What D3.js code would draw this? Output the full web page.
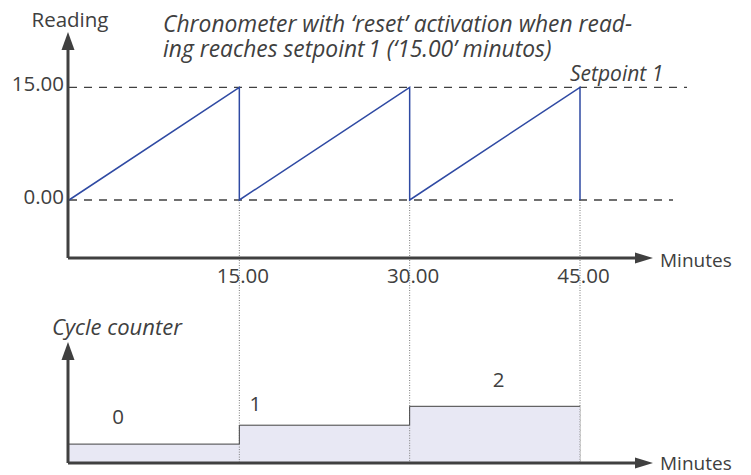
<!DOCTYPE html>
<html>
<head>
<meta charset="utf-8">
<script src="https://cdn.jsdelivr.net/npm/d3@7"></script>
<style>
  html, body { margin: 0; padding: 0; background: #fff; }
  svg { display: block; }
  text { font-family: "Open Sans", Lato, sans-serif; fill: #404040; }
</style>
</head>
<body>
<svg id="chart" width="751" height="475"></svg>
<script>
// ---- data ----
const minuteTicks = [15, 30, 45];
const readingTicks = [0, 15];
const sawMinutes = [0, 15, 15, 30, 30, 45, 45];
const sawReading = [0, 15, 0, 15, 0, 15, 0];
const cycleStart = [0, 15, 30];
const cycleEnd = [15, 30, 45];
const cycleCount = [0, 1, 2];
const titleLines = ["Chronometer with \u2018reset\u2019 activation when read-",
                    "ing reaches setpoint\u20091 (\u201815.00\u2019 minutos)"];
const setpointLabel = "Setpoint 1";
const yLabelTop = "Reading";
const yLabelBottom = "Cycle counter";
const xLabel = "Minutes";

// ---- layout ----
const svg = d3.select("#chart");
const axisColor = "#404040";
const fs = 20.5;
const x = d3.scaleLinear().domain([0, 45]).range([69, 580]);
const yTop = d3.scaleLinear().domain([0, 15]).range([200, 87.3]);
const yBot = d3.scaleLinear().domain([-1, 2]).range([463, 406.3]);
const topAxisY = 258, botAxisY = 463;

// dotted vertical guides
svg.append("g").selectAll("line").data(minuteTicks).join("line")
  .attr("x1", d => x(d)).attr("x2", d => x(d))
  .attr("y1", yTop(0)).attr("y2", botAxisY)
  .attr("stroke", "#7a7a7a").attr("stroke-width", 1).attr("stroke-dasharray", "1,1.5");

// dashed reference lines
svg.append("g").selectAll("line").data(readingTicks).join("line")
  .attr("x1", x(0)).attr("x2", d => d === 15 ? 687 : 673)
  .attr("y1", d => yTop(d)).attr("y2", d => yTop(d))
  .attr("stroke", axisColor).attr("stroke-width", 1.3).attr("stroke-dasharray", "8,7");

// sawtooth
const sawPts = sawMinutes.map((m, i) => [m, sawReading[i]]);
svg.append("path")
  .attr("d", d3.line().x(d => x(d[0])).y(d => yTop(d[1]))(sawPts))
  .attr("fill", "none").attr("stroke", "#2f4aa3").attr("stroke-width", 1.5);

// cycle counter step area
const stepPts = [];
cycleCount.forEach((c, i) => { stepPts.push([cycleStart[i], c]); stepPts.push([cycleEnd[i], c]); });
svg.append("path")
  .attr("d", d3.area().x(d => x(d[0])).y0(botAxisY).y1(d => yBot(d[1]))(stepPts))
  .attr("fill", "#e8e8f4").attr("stroke", "none");
svg.append("path")
  .attr("d", d3.line().x(d => x(d[0])).y(d => yBot(d[1]))(stepPts))
  .attr("fill", "none").attr("stroke", axisColor).attr("stroke-width", 1);
// redraw dotted lines over fill
svg.append("g").selectAll("line").data(minuteTicks).join("line")
  .attr("x1", d => x(d)).attr("x2", d => x(d))
  .attr("y1", (d, i) => yBot(cycleCount[i])).attr("y2", botAxisY)
  .attr("stroke", "#7a7a7a").attr("stroke-width", 1).attr("stroke-dasharray", "1,1.5");

// counter labels
const labelDx = [49, 16, 89];
const labelDy = [-20, -14.5, -19];
svg.append("g").selectAll("text").data(cycleCount).join("text")
  .attr("x", (d, i) => x(cycleStart[i]) + labelDx[i])
  .attr("y", (d, i) => yBot(d) + labelDy[i])
  .attr("text-anchor", "middle").attr("font-size", fs).text(d => d);

// axes with arrows
function arrowAxes(yBottom, yTip, labelDy) {
  const g = svg.append("g");
  g.append("path").attr("d", `M${x(0)-1},${yBottom} L${x(0)-1},${yTip+16}`)
    .attr("stroke", axisColor).attr("stroke-width", 3).attr("fill", "none");
  g.append("path").attr("d", `M${x(0)-1},${yBottom} L637,${yBottom}`)
    .attr("stroke", axisColor).attr("stroke-width", 3).attr("fill", "none");
  g.append("path").attr("d", `M${x(0)-1-6.5},${yTip+18} L${x(0)-1},${yTip} L${x(0)-1+6.5},${yTip+18} Z`)
    .attr("fill", axisColor);
  g.append("path").attr("d", `M635,${yBottom-5.5} L653,${yBottom} L635,${yBottom+5.5} Z`)
    .attr("fill", axisColor);
  g.append("text").attr("x", 660).attr("y", yBottom + labelDy).attr("font-size", 19).text(xLabel);
}
arrowAxes(topAxisY, 32, 8.5);
arrowAxes(botAxisY, 342, 6.5);

// x tick labels
const xAxis = svg.append("g").attr("transform", `translate(0,${topAxisY})`)
  .call(d3.axisBottom(x).tickValues(minuteTicks).tickFormat(d3.format(".2f")).tickSize(0));
xAxis.select(".domain").remove();
xAxis.selectAll("text").attr("font-size", fs).attr("font-family", null)
  .attr("fill", "#404040").attr("y", 25).attr("dy", 0).attr("dx", 3);

// y tick labels
const yAxis = svg.append("g").attr("transform", `translate(${x(0)},0)`)
  .call(d3.axisLeft(yTop).tickValues(readingTicks).tickFormat(d3.format(".2f")).tickSize(0));
yAxis.select(".domain").remove();
yAxis.selectAll("text").attr("font-size", fs).attr("font-family", null)
  .attr("fill", "#404040").attr("x", -5).attr("dy", 3.5);

// labels
svg.append("text").attr("x", 70).attr("y", 27).attr("text-anchor", "middle")
  .attr("font-size", fs).text(yLabelTop);
svg.append("text").attr("x", 52).attr("y", 335).attr("font-size", 22)
  .attr("font-style", "italic").text(yLabelBottom);
svg.append("text").attr("x", 570).attr("y", 81).attr("font-size", 21)
  .attr("font-style", "italic").text(setpointLabel);
const title = svg.append("text").attr("x", 163).attr("y", 31.7)
  .attr("font-size", 22.8).attr("font-style", "italic");
title.selectAll("tspan").data(titleLines).join("tspan")
  .attr("x", 163).attr("dy", (d, i) => i === 0 ? 0 : 25).text(d => d);
</script>
</body>
</html>
